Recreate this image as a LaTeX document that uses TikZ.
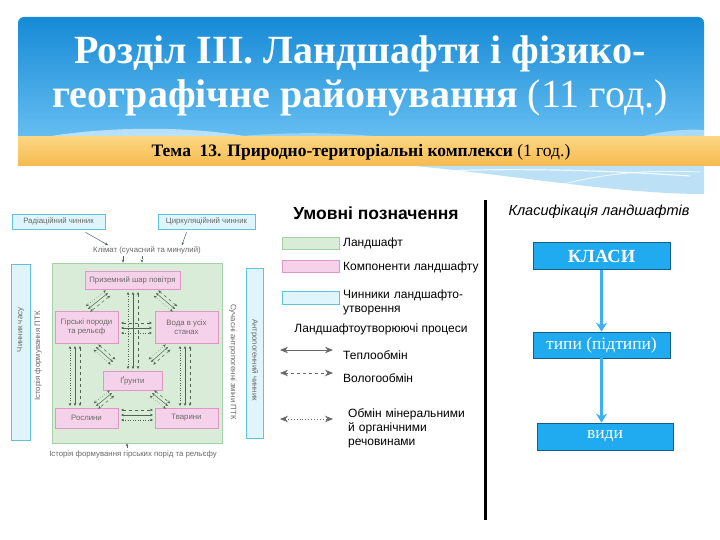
\documentclass[tikz,border=0pt]{standalone}
\usepackage{fontspec}
\setmainfont{Liberation Serif}
\setsansfont{Liberation Sans}
\usetikzlibrary{arrows.meta,calc}

\definecolor{hdrtop}{RGB}{22,138,214}
\definecolor{hdrbot}{RGB}{105,192,242}
\definecolor{bandtop}{RGB}{252,214,130}
\definecolor{bandbot}{RGB}{246,186,80}
\definecolor{swoosh}{RGB}{188,224,246}
\definecolor{clsblue}{RGB}{32,170,240}
\definecolor{clsarrow}{RGB}{60,176,240}
\definecolor{pinkfill}{RGB}{246,210,234}
\definecolor{pinkdraw}{RGB}{226,150,200}
\definecolor{greenfill}{RGB}{216,236,216}
\definecolor{greendraw}{RGB}{165,208,168}
\definecolor{cyanfill}{RGB}{224,245,251}
\definecolor{cyandraw}{RGB}{95,195,222}
\definecolor{figtext}{RGB}{105,105,105}
\definecolor{figarrow}{RGB}{80,100,85}
\definecolor{legarrow}{RGB}{105,105,105}

\newcommand\trio[3]{%
  \draw[farrow] (#1) -- (#2);
  \draw[farrow,dashed] ($(#1)!#3!90:(#2)$) -- ($(#2)!#3!-90:(#1)$);
  \draw[farrow,dotted] ($(#1)!#3!-90:(#2)$) -- ($(#2)!#3!90:(#1)$);
}

\begin{document}
\begin{tikzpicture}[x=1pt,y=-1pt,
  comp/.style={draw=pinkdraw,fill=pinkfill,line width=0.6pt,inner sep=1pt,align=center,
    font=\sffamily\fontsize{7.8}{9}\selectfont,text=figtext},
  factor/.style={draw=cyandraw,fill=cyanfill,line width=0.6pt,inner sep=1pt,
    font=\sffamily\fontsize{7.8}{9}\selectfont,text=figtext},
  land/.style={draw=greendraw,fill=greenfill,line width=0.6pt},
  ftxt/.style={font=\sffamily\fontsize{7.8}{9}\selectfont,text=figtext,inner sep=1pt},
  farrow/.style={figarrow,line width=0.5pt,{Stealth[length=3pt,width=2.6pt]}-{Stealth[length=3pt,width=2.6pt]}},
  sarrow/.style={figarrow,line width=0.5pt,-{Stealth[length=3pt,width=2.6pt]}},
  legarr/.style={legarrow,line width=0.9pt,{Stealth[length=8pt,width=6.5pt]}-{Stealth[length=8pt,width=6.5pt]}},
  legtxt/.style={font=\sffamily\fontsize{12}{14}\selectfont,anchor=west,inner sep=0pt,align=left},
  swatch/.style={line width=0.8pt,minimum width=57pt,minimum height=12pt,inner sep=0pt},
  clsbox/.style={fill=clsblue,draw=clsblue!55!black,line width=0.7pt,minimum width=137pt,
    minimum height=27pt,text=white,font=\fontsize{17.5}{20}\selectfont},
  clsarr/.style={clsarrow,line width=2.6pt,-{Stealth[length=9pt,width=11pt]}}
]
\useasboundingbox (0,0) rectangle (720,540);
\fill[white] (0,0) rectangle (720,540);

% header
\shade[top color=hdrtop,bottom color=hdrbot,rounded corners=6pt] (18,17) rectangle (704,142);
\fill[white,opacity=0.55] (45,137) .. controls (110,126) and (190,126) .. (250,137) -- cycle;
\fill[white,opacity=0.35] (230,137) .. controls (290,131) and (350,133) .. (380,137) -- cycle;
\fill[white,opacity=0.45] (640,137) .. controls (665,130) and (690,129) .. (704,130) -- (704,137) -- cycle;
\node[text=white,align=center,font=\bfseries\fontsize{40}{44}\selectfont] (title) at (360,76)
  {Розділ III. Ландшафти і фізико-\\географічне районування {\mdseries(11 год.)}};

% band
\shade[top color=bandtop,bottom color=bandbot] (18,137) rectangle (720,166);
\node[font=\bfseries\fontsize{17.5}{20}\selectfont] (theme) at (361,152)
  {Тема\ \ 13. Природно-територіальні комплекси {\mdseries(1 год.)}};

% swoosh below band
\fill[swoosh] (415,166) .. controls (520,176) and (620,194) .. (704,194) -- (704,166) -- cycle;
\draw[white,line width=1.2pt,opacity=0.8] (440,171) .. controls (520,168) and (600,170) .. (690,176);
\draw[white,line width=1pt,opacity=0.7] (560,185) .. controls (610,172) and (650,170) .. (700,172);

% ---------------- left figure ----------------
\node[factor,minimum width=93pt,minimum height=15pt] (rad) at (58.5,221.5) {Радіаційний чинник};
\node[factor,minimum width=97pt,minimum height=15pt] (cir) at (206.5,221.5) {Циркуляційний чинник};
\node[ftxt] (clim) at (147,250) {Клімат (сучасний та минулий)};
\draw[sarrow] ($(rad.south)+(27,3)$) -- ($(clim.north west)+(16,0)$);
\draw[sarrow] ($(cir.south)+(-20,3)$) -- ($(clim.north east)+(-20,0)$);

\node[land,minimum width=170pt,minimum height=180pt] (land) at (137,353) {};
\draw[sarrow] ($(clim.south)+(-24,1)$) -- (land.north -| 123,0);
\draw[sarrow,dashed] ($(clim.south)+(-5,1)$) -- (land.north -| 142,0);

\node[comp,minimum width=95pt,minimum height=18pt] (pr) at (132.5,280) {Приземний шар повітря};
\node[comp,minimum width=63pt,minimum height=32pt] (gp) at (86.5,327) {Гірські породи\\та рельєф};
\node[comp,minimum width=63pt,minimum height=32pt] (vo) at (186.5,327) {Вода в усіх\\станах};
\node[comp,minimum width=59pt,minimum height=19pt] (gr) at (132.5,380.5) {Ґрунти};
\node[comp,minimum width=63pt,minimum height=20pt] (ro) at (86.5,418) {Рослини};
\node[comp,minimum width=63pt,minimum height=20pt] (tv) at (186.5,418) {Тварини};

\coordinate (a1) at (108,293); \coordinate (b1) at (88,309);
\coordinate (a2) at (156,293); \coordinate (b2) at (175,309);
\coordinate (a3) at (133,292); \coordinate (b3) at (133,369);
\coordinate (a4) at (121,328); \coordinate (b4) at (152,328);
\coordinate (a5) at (96,347);  \coordinate (b5) at (113,362);
\coordinate (a6) at (168,347); \coordinate (b6) at (151,362);
\coordinate (a7) at (185,346); \coordinate (b7) at (185,406);
\coordinate (a8) at (75,346);  \coordinate (b8) at (75,406);
\coordinate (a9) at (112,393); \coordinate (b9) at (96,406);
\coordinate (a10) at (152,393); \coordinate (b10) at (168,406);
\coordinate (a11) at (121,415); \coordinate (b11) at (153,415);
\trio{a1}{b1}{3.5pt}
\trio{a2}{b2}{3.5pt}
\trio{a3}{b3}{5pt}
\trio{a4}{b4}{5pt}
\trio{a5}{b5}{3.5pt}
\trio{a6}{b6}{3.5pt}
\trio{a7}{b7}{5pt}
\trio{a8}{b8}{5pt}
\trio{a9}{b9}{3.5pt}
\trio{a10}{b10}{3.5pt}
\trio{a11}{b11}{5pt}

\node[ftxt] (hist) at (133,454) {Історія формування гірських порід та рельєфу};
\draw[sarrow] ($(hist.north)+(-6,-1)$) -- (land.south -| 127,0);

\node[factor,minimum width=19pt,minimum height=176pt] (time) at (20.5,352) {};
\node[ftxt,rotate=90] (timet) at (20.5,330) {Чинник часу};
\node[ftxt,rotate=90] (ptk) at (38,356) {Історія формування ПТК};
\node[ftxt,rotate=-90] (mod) at (233,362) {Сучасні антропогенні зміни ПТК};
\node[factor,minimum width=17pt,minimum height=170pt] (anth) at (254.5,353) {};
\node[ftxt,rotate=-90] (antht) at (254.5,360) {Антропогенний чинник};

% ---------------- legend ----------------
\node[font=\sffamily\bfseries\fontsize{17.5}{20}\selectfont] (legh) at (376,213) {Умовні позначення};
\node[swatch,draw=greendraw,fill=greenfill] (sw1) at (311,243) {};
\node[legtxt] (l1) at (343,243) {Ландшафт};
\node[swatch,draw=pinkdraw,fill=pinkfill] (sw2) at (311,266) {};
\node[legtxt] (l2) at (343,267) {Компоненти ландшафту};
\node[swatch,draw=cyandraw,fill=cyanfill,minimum height=13pt] (sw3) at (311,298) {};
\node[legtxt,text width=140pt] (l3) at (343,302) {Чинники ландшафто-\\утворення};
\node[font=\sffamily\fontsize{12}{14}\selectfont] (lp) at (381,329) {Ландшафтоутворюючі процеси};
\coordinate (la1) at (280,350); \coordinate (lb1) at (333,350);
\coordinate (la2) at (280,373); \coordinate (lb2) at (333,373);
\coordinate (la3) at (280,419); \coordinate (lb3) at (333,419);
\draw[legarr] (la1) -- (lb1);
\draw[legarr,dashed] (la2) -- (lb2);
\draw[legarr,dotted] (la3) -- (lb3);
\node[legtxt] (t1) at (343,355) {Теплообмін};
\node[legtxt] (t2) at (343,378) {Вологообмін};
\node[legtxt,text width=130pt] (t3) at (348,428) {Обмін мінеральними\\й органічними\\речовинами};

\draw[line width=3pt] (485,200) -- (485,520);

% ---------------- classification ----------------
\node[font=\sffamily\itshape\fontsize{14.5}{17}\selectfont] (clh) at (599,212) {Класифікація ландшафтів};
\node[clsbox,font=\bfseries\fontsize{18.5}{20}\selectfont] (k1) at (601.5,256) {КЛАСИ};
\node[clsbox,minimum height=26pt] (k2) at (601.5,345) {типи (підтипи)};
\node[clsbox,minimum width=136pt] (k3) at (605,436.5) {види};
\draw[clsarr] (k1.south) -- (k2.north);
\draw[clsarr] (k2.south) -- (k2.south |- k3.north);
\end{tikzpicture}
\end{document}
